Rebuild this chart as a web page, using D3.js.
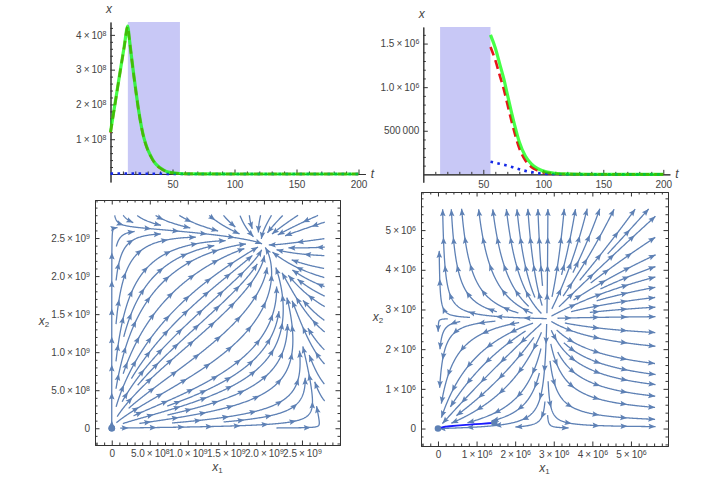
<!DOCTYPE html>
<html>
<head>
<meta charset="utf-8">
<script src="https://cdn.jsdelivr.net/npm/d3@7"></script>
<style>
  body { margin: 0; background: #fff; }
  svg text { font-family: "Liberation Sans", Arial, sans-serif; }
</style>
</head>
<body>
<div id="wrapper"></div>
<script>
// treatment window, days
const treatWindow = [14, 56]

// top left: total tumour x, x1 and x2 over time
const timeA = [0, 4, 8, 11, 14, 15, 17, 19, 21, 23, 25, 27, 29, 32, 36, 40, 45, 50, 56, 60, 80, 120, 200]
const totalA = [1.2e8, 2.1e8, 3.0e8, 3.65e8, 4.25e8, 3.95e8, 3.35e8, 2.78e8, 2.25e8, 1.76e8, 1.35e8, 1.03e8, 0.8e8, 0.55e8, 0.31e8, 0.18e8, 0.075e8, 0.035e8, 0.014e8, 0.007e8, 0.001e8, 0.0001e8, 0]
const x1A = [1.19e8, 2.09e8, 2.99e8, 3.64e8, 4.24e8, 3.94e8, 3.34e8, 2.77e8, 2.24e8, 1.75e8, 1.34e8, 1.02e8, 0.79e8, 0.54e8, 0.3e8, 0.17e8, 0.07e8, 0.03e8, 0.011e8, 0.005e8, 0.001e8, 0, 0]
const x2A = [0.01e8, 0.012e8, 0.013e8, 0.013e8, 0.012e8, 0.012e8, 0.011e8, 0.011e8, 0.01e8, 0.01e8, 0.009e8, 0.009e8, 0.008e8, 0.008e8, 0.007e8, 0.006e8, 0.005e8, 0.004e8, 0.003e8, 0.002e8, 0.001e8, 0, 0]

// top right: after the treatment window
const timeB = [56, 60, 64, 67, 70, 73, 76, 80, 85, 90, 95, 100, 110, 120, 140, 170, 200]
const totalB = [1.6e6, 1.45e6, 1.25e6, 1.1e6, 0.92e6, 0.74e6, 0.57e6, 0.37e6, 0.21e6, 0.12e6, 0.068e6, 0.037e6, 0.013e6, 0.005e6, 0.001e6, 0, 0]
const x1B = [1.46e6, 1.31e6, 1.12e6, 0.98e6, 0.81e6, 0.64e6, 0.48e6, 0.3e6, 0.16e6, 0.085e6, 0.045e6, 0.023e6, 0.008e6, 0.003e6, 0.001e6, 0, 0]
const x2B = [0.145e6, 0.133e6, 0.12e6, 0.11e6, 0.1e6, 0.088e6, 0.075e6, 0.058e6, 0.04e6, 0.026e6, 0.015e6, 0.008e6, 0.003e6, 0.001e6, 0, 0, 0]

// tick labels
const tTicks = [50, 100, 150, 200]
const yTicksA = [1e8, 2e8, 3e8, 4e8]
const yLabelsA = ["1 × 10^8", "2 × 10^8", "3 × 10^8", "4 × 10^8"]
const yTicksB = [5e5, 1e6, 1.5e6]
const yLabelsB = ["500 000", "1.0 × 10^6", "1.5 × 10^6"]
const ticksC = [0, 5e8, 1e9, 1.5e9, 2e9, 2.5e9]
const labelsC = ["0", "5.0 × 10^8", "1.0 × 10^9", "1.5 × 10^9", "2.0 × 10^9", "2.5 × 10^9"]
const ticksD = [0, 1e6, 2e6, 3e6, 4e6, 5e6]
const labelsD = ["0", "1 × 10^6", "2 × 10^6", "3 × 10^6", "4 × 10^6", "5 × 10^6"]

// bottom left phase plane: competition model
const growthC = [1, 0.75]
const capacityC = [2.75e9, 2.65e9]
const competitionC = [0.318, 0.116]
const streamRangeC = [2.8e9, 2.8e9]

// bottom right phase plane: threshold model
const growthD = [1, 1]
const thresholdD = [2.82e6, 2.77e6]
const streamRangeD = [5.64e6, 5.54e6]

const fieldC = (u, v) => [
    growthC[0] * u * (1 - (u + competitionC[0] * v) / capacityC[0]),
    growthC[1] * v * (1 - (v + competitionC[1] * u) / capacityC[1]),
]
const fieldD = (u, v) => [
    growthD[0] * u * (u / thresholdD[0] - 1),
    growthD[1] * v * (v / thresholdD[1] - 1),
]

const axisColor = "#333"
const labelColor = "#444"
const streamColor = "#5e81b5"

const svg = d3.select("#wrapper")
    .append("svg")
    .attr("width", 725)
    .attr("height", 481)

function setLabel(text, str) {
    const parts = str.replace(/ /g, "\u2009").split("^")
    text.text(parts[0])
    if (parts[1]) {
        text.append("tspan")
            .attr("dy", "-0.42em")
            .attr("font-size", "7px")
            .text(parts[1])
    }
}

function minorTicks(step, every, from, to) {
    const out = []
    for (let k = Math.ceil(from / step); k * step <= to; k++) {
        if (k % every !== 0) out.push(k * step)
    }
    return out
}

function styleAxis(a) {
    a.attr("font-family", null).attr("font-size", null)
    a.selectAll(".domain, .tick line").attr("stroke", axisColor)
    a.selectAll("text").attr("fill", labelColor).attr("font-size", "10px")
}

function italicLabel(x, y, name, sub) {
    const t = svg.append("text")
        .attr("x", x).attr("y", y)
        .attr("text-anchor", "middle")
        .attr("font-style", "italic")
        .attr("font-size", "12px")
        .attr("fill", labelColor)
        .text(name)
    if (sub) t.append("tspan").attr("dy", "0.3em").attr("font-size", "8px").attr("font-style", "normal").text(sub)
}

function timePanel(cfg) {
    const x = d3.scaleLinear()
        .domain([0, 205.5])
        .range([cfg.left, cfg.left + 205.5 * cfg.pxPerDay])
    const y = d3.scaleLinear()
        .domain(cfg.yDomain)
        .range(cfg.yRange)

    const g = svg.append("g")

    g.append("rect")
        .attr("x", x(treatWindow[0]))
        .attr("y", cfg.yRange[1])
        .attr("width", x(treatWindow[1]) - x(treatWindow[0]))
        .attr("height", y(0) - cfg.yRange[1])
        .attr("fill", "#c8c8f6")

    const xMinor = g.append("g")
        .attr("transform", `translate(0,${y(0)})`)
        .call(d3.axisBottom(x).tickValues(minorTicks(10, 5, 10, 200)).tickSize(-2.5).tickSizeOuter(0).tickFormat(""))
    styleAxis(xMinor)
    const xAxis = g.append("g")
        .attr("transform", `translate(0,${y(0)})`)
        .call(d3.axisBottom(x).tickValues(tTicks).tickSize(-4.5).tickSizeOuter(0).tickPadding(7))
    styleAxis(xAxis)

    const yMinor = g.append("g")
        .attr("transform", `translate(${x(0)},0)`)
        .call(d3.axisLeft(y).tickValues(cfg.yMinor).tickSize(-2.5).tickSizeOuter(0).tickFormat(""))
    styleAxis(yMinor)
    const yAxis = g.append("g")
        .attr("transform", `translate(${x(0)},0)`)
        .call(d3.axisLeft(y).tickValues(cfg.yTicks).tickSize(-4.5).tickSizeOuter(0).tickPadding(4))
    styleAxis(yAxis)
    yAxis.selectAll(".tick text").each(function (d, i) { setLabel(d3.select(this), cfg.yLabels[i]) })

    const line = d3.line()
        .x(d => x(d[0]))
        .y(d => y(d[1]))
        .curve(d3.curveMonotoneX)

    g.append("path")
        .attr("d", line(d3.zip(cfg.time, cfg.x1)))
        .attr("fill", "none")
        .attr("stroke", "#e8141c")
        .attr("stroke-width", 2.6)
        .attr("stroke-dasharray", "9,5")
    g.append("path")
        .attr("d", line(d3.zip(cfg.time, cfg.x2)))
        .attr("fill", "none")
        .attr("stroke", "#1428e6")
        .attr("stroke-width", 2.6)
        .attr("stroke-dasharray", "2.6,4.4")
    g.append("path")
        .attr("d", line(d3.zip(cfg.time, cfg.total)))
        .attr("fill", "none")
        .attr("stroke", "#00ff00")
        .attr("stroke-opacity", 0.72)
        .attr("stroke-width", 3.2)

    italicLabel(x(0) - 1.5, cfg.yRange[1] - 9, "x")
    italicLabel(x(205.5) + 7, y(0) + 4, "t")
}

timePanel({
    left: 110.5, pxPerDay: 1.24,
    yDomain: [-0.23e8, 4.37e8], yRange: [182, 22],
    yTicks: yTicksA, yLabels: yLabelsA, yMinor: minorTicks(0.2e8, 5, 0.2e8, 4.3e8),
    time: timeA, total: totalA, x1: x1A, x2: x2A,
})
timePanel({
    left: 423.3, pxPerDay: 1.2,
    yDomain: [-0.09e6, 1.69e6], yRange: [182.2, 27],
    yTicks: yTicksB, yLabels: yLabelsB, yMinor: minorTicks(1e5, 5, 1e5, 1.65e6),
    time: timeB, total: totalB, x1: x1B, x2: x2B,
})

// evenly spaced streamlines (pixel space), seeded from neighbouring lines
function streamlines(field, x, y, extent, dsep) {
    const px0 = x(0), px1 = x(extent[0]), py0 = y(0), py1 = y(extent[1])
    const dtest = dsep * 0.5, h = 0.7, maxLen = 260, minLen = 12
    const cell = dtest
    const grid = new Map()
    const key = (cx, cy) => cx * 10007 + cy

    function add(p) {
        const k = key(Math.floor(p[0] / cell), Math.floor(p[1] / cell))
        if (!grid.has(k)) grid.set(k, [])
        grid.get(k).push(p)
    }
    function clear(p, d) {
        const cx = Math.floor(p[0] / cell), cy = Math.floor(p[1] / cell), n = Math.ceil(d / cell)
        for (let i = -n; i <= n; i++) for (let j = -n; j <= n; j++) {
            const a = grid.get(key(cx + i, cy + j))
            if (!a) continue
            for (const q of a) if ((q[0] - p[0]) ** 2 + (q[1] - p[1]) ** 2 < d * d) return false
        }
        return true
    }
    const inside = p => p[0] >= px0 - 0.01 && p[0] <= px1 + 0.01 && p[1] >= py1 - 0.01 && p[1] <= py0 + 0.01
    function dir(p) {
        const v = field(x.invert(p[0]), y.invert(p[1]))
        const vx = x(v[0]) - x(0), vy = y(v[1]) - y(0)
        const m = Math.hypot(vx, vy)
        return m < 0.15 ? null : [vx / m, vy / m]
    }
    function trace(seed, sgn, budget) {
        const pts = []
        let p = seed, len = 0, prev = null
        while (len < budget) {
            const a = dir(p)
            if (!a) break
            const mid = [p[0] + sgn * a[0] * h / 2, p[1] + sgn * a[1] * h / 2]
            const b = dir(mid)
            if (!b) break
            if (prev && prev[0] * b[0] + prev[1] * b[1] < 0.3) break
            const q = [p[0] + sgn * b[0] * h, p[1] + sgn * b[1] * h]
            if (!inside(q) || !clear(q, dtest)) break
            pts.push(q)
            prev = b
            p = q
            len += h
        }
        return pts
    }

    const lines = []
    function tryLine(s) {
        if (!inside(s) || !clear(s, dsep * 0.98)) return
        const fwd = trace(s, 1, maxLen)
        const back = trace(s, -1, maxLen - fwd.length * h)
        const pts = back.reverse().concat([s], fwd)
        if ((pts.length - 1) * h < minLen) return
        pts.forEach(add)
        lines.push(pts)
    }

    const gridSeeds = []
    for (let py = py1 + dsep / 2; py < py0; py += dsep)
        for (let px = px0 + dsep / 2; px < px1; px += dsep) gridSeeds.push([px, py])

    let qi = 0, gi = 0
    const stepN = Math.max(1, Math.round(dsep / h / 2))
    while (true) {
        if (qi < lines.length) {
            const L = lines[qi++]
            for (let i = 0; i < L.length; i += stepN) {
                const a = L[Math.max(0, i - 1)], b = L[Math.min(L.length - 1, i + 1)]
                let tx = b[0] - a[0], ty = b[1] - a[1]
                const m = Math.hypot(tx, ty) || 1
                tx /= m; ty /= m
                tryLine([L[i][0] - ty * dsep, L[i][1] + tx * dsep])
                tryLine([L[i][0] + ty * dsep, L[i][1] - tx * dsep])
            }
        } else if (gi < gridSeeds.length) {
            tryLine(gridSeeds[gi++])
        } else break
    }
    return lines
}

function phasePanel(cfg) {
    const [l, r, t, b] = cfg.frame
    const x = d3.scaleLinear().domain(cfg.domain).range([l, r])
    const y = d3.scaleLinear().domain(cfg.domain).range([b, t])
    const g = svg.append("g")

    g.append("rect")
        .attr("x", l).attr("y", t)
        .attr("width", r - l).attr("height", b - t)
        .attr("fill", "#fff")

    const sides = [
        [d3.axisBottom, x, `translate(0,${b})`, true],
        [d3.axisTop, x, `translate(0,${t})`, false],
        [d3.axisLeft, y, `translate(${l},0)`, true],
        [d3.axisRight, y, `translate(${r},0)`, false],
    ]
    sides.forEach(([make, scale, tr, labelled]) => {
        const minor = g.append("g")
            .attr("transform", tr)
            .call(make(scale).tickValues(cfg.minor).tickSize(-2.5).tickSizeOuter(0).tickFormat(""))
        styleAxis(minor)
        const major = g.append("g")
            .attr("transform", tr)
            .call(make(scale).tickValues(cfg.ticks).tickSize(-4.5).tickSizeOuter(0).tickPadding(5))
        styleAxis(major)
        if (labelled) major.selectAll(".tick text").each(function (d, i) { setLabel(d3.select(this), cfg.labels[i]) })
        else major.selectAll(".tick text").remove()
    })

    const lines = streamlines(cfg.field, x, y, cfg.streamRange, cfg.dsep)
    const sg = g.append("g")
    sg.selectAll("path.stream")
        .data(lines)
        .enter()
        .append("path")
        .attr("class", "stream")
        .attr("d", d3.line())
        .attr("fill", "none")
        .attr("stroke", streamColor)
        .attr("stroke-width", 1.3)

    // arrowheads, counted back from the forward end of each line
    const heads = []
    lines.forEach(pts => {
        const cum = [0]
        for (let i = 1; i < pts.length; i++) cum.push(cum[i - 1] + Math.hypot(pts[i][0] - pts[i - 1][0], pts[i][1] - pts[i - 1][1]))
        const L = cum[cum.length - 1]
        for (let s = L - 0.5; s > 7; s -= cfg.arrowGap) {
            const i = Math.max(1, d3.bisectLeft(cum, s))
            const j = Math.max(0, i - 4)
            const dx = pts[i][0] - pts[j][0], dy = pts[i][1] - pts[j][1]
            const m = Math.hypot(dx, dy) || 1
            heads.push({ p: pts[i], ux: dx / m, uy: dy / m })
        }
    })
    sg.selectAll("path.head")
        .data(heads)
        .enter()
        .append("path")
        .attr("class", "head")
        .attr("d", d => {
            const len = 7, w = 2.8, [px, py] = d.p
            const bx = px - d.ux * len, by = py - d.uy * len
            const nx = bx + d.ux * 1.2, ny = by + d.uy * 1.2
            return `M${px},${py}L${bx - d.uy * w},${by + d.ux * w}L${nx},${ny}L${bx + d.uy * w},${by - d.ux * w}Z`
        })
        .attr("fill", streamColor)

    // simulated trajectory after treatment
    const after = cfg.time.map((tt, i) => [tt, cfg.x1[i], cfg.x2[i]]).filter(d => d[0] >= treatWindow[1])
    g.append("path")
        .attr("d", d3.line().x(d => x(d[1])).y(d => y(d[2]))(after))
        .attr("fill", "none")
        .attr("stroke", "#1a1aff")
        .attr("stroke-width", 1.8)
    g.selectAll("circle")
        .data([after[0], after[after.length - 1]])
        .enter()
        .append("circle")
        .attr("cx", d => x(d[1]))
        .attr("cy", d => y(d[2]))
        .attr("r", 3.3)
        .attr("fill", streamColor)

    italicLabel((l + r) / 2, b + 26, "x", "1")
    italicLabel(cfg.yLabelX, (t + b) / 2 + 2, "x", "2")
}

phasePanel({
    frame: [95, 340, 200, 445], domain: [-0.22e9, 3.0e9],
    ticks: ticksC, labels: labelsC, minor: minorTicks(1e8, 5, -2e8, 3e9),
    field: fieldC, streamRange: streamRangeC, dsep: 8.5, arrowGap: 28,
    time: timeA, x1: x1A, x2: x2A, yLabelX: 44,
})
phasePanel({
    frame: [421, 668, 192, 446], domain: [-0.44e6, 5.96e6],
    ticks: ticksD, labels: labelsD, minor: minorTicks(2e5, 5, -4e5, 5.9e6),
    field: fieldD, streamRange: streamRangeD, dsep: 9.5, arrowGap: 28,
    time: timeB, x1: x1B, x2: x2B, yLabelX: 378,
})
</script>
</body>
</html>
